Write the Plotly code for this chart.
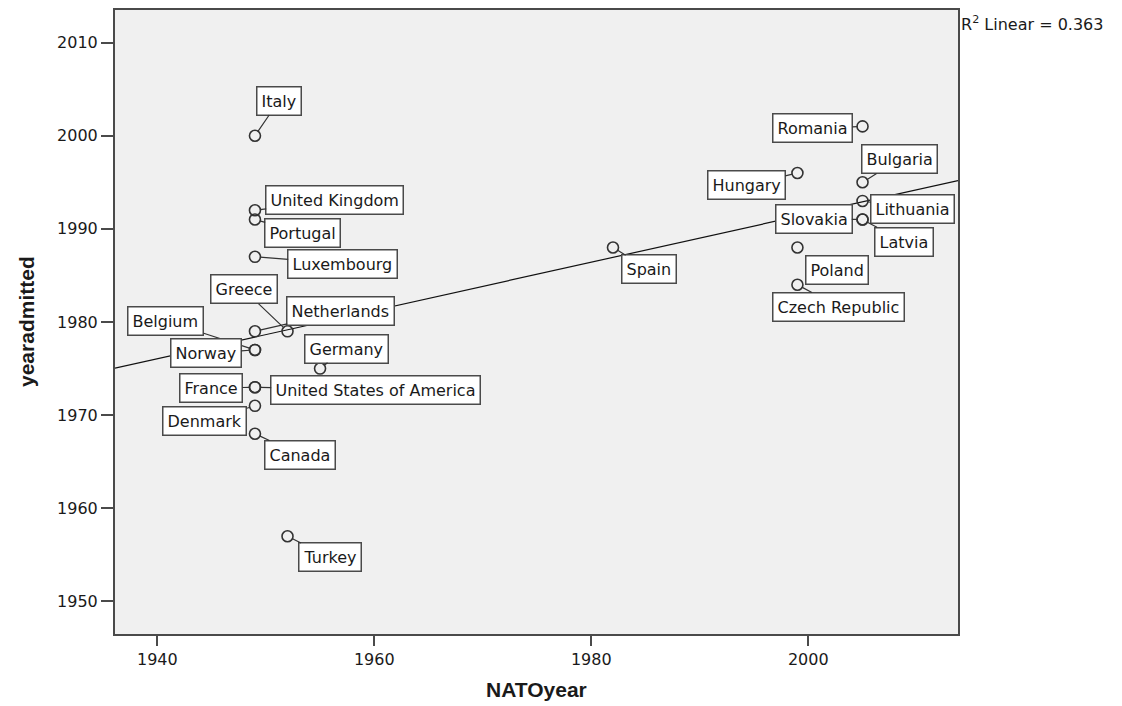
import numpy as np
import plotly.graph_objects as go

# ---- data ----
countries = ["Italy", "United Kingdom", "Portugal", "Luxembourg", "Greece",
             "Netherlands", "Belgium", "Norway", "Germany", "France",
             "United States of America", "Denmark", "Canada", "Turkey",
             "Spain", "Hungary", "Poland", "Czech Republic", "Romania",
             "Bulgaria", "Lithuania", "Latvia", "Slovakia"]
nato_year = [1949, 1949, 1949, 1949, 1952,
             1949, 1949, 1949, 1955, 1949,
             1949, 1949, 1949, 1952,
             1982, 1999, 1999, 1999, 2005,
             2005, 2005, 2005, 2005]
year_admitted = [2000, 1992, 1991, 1987, 1979,
                 1979, 1977, 1977, 1975, 1973,
                 1973, 1971, 1968, 1957,
                 1988, 1996, 1988, 1984, 2001,
                 1995, 1993, 1991, 1991]
x_ticks = [1940, 1960, 1980, 2000]
y_ticks = [1950, 1960, 1970, 1980, 1990, 2000, 2010]
r2_label = "0.363"

# ---- label placement (pixel offsets of box centre from point) ----
label_offsets = {
    "Italy": (24, -35), "United Kingdom": (80, -10), "Portugal": (48, 13),
    "Luxembourg": (88, 7), "Greece": (-44, -42), "Netherlands": (86, -20),
    "Belgium": (-89, -29), "Norway": (-49, 3), "Germany": (26, -20),
    "France": (-44, 1), "United States of America": (121, 3),
    "Denmark": (-50, 15), "Canada": (45, 21), "Turkey": (42, 21),
    "Spain": (36, 22), "Hungary": (-51, 12), "Poland": (40, 23),
    "Czech Republic": (41, 22), "Romania": (-50, 2), "Bulgaria": (37, -23),
    "Lithuania": (50, 8), "Latvia": (41, 22), "Slovakia": (-49, -1),
}

x_range = [1936.1, 2013.8]
y_range = [1946.5, 2013.5]

x = np.array(nato_year, dtype=float)
y = np.array(year_admitted, dtype=float)
slope, intercept = np.polyfit(x, y, 1)
fit_x = np.array(x_range)
fit_y = slope * fit_x + intercept

TXT = "#1a1a1a"
EDGE = "#4a4a4a"
LABEL_FONT = dict(family="DejaVu Sans, Arial, sans-serif", size=16, color=TXT)
TITLE_FONT = dict(family="Liberation Sans Narrow, Arial Narrow, Liberation Sans, sans-serif",
                  size=21, color=TXT, weight="bold")

fig = go.Figure()
fig.add_trace(go.Scatter(x=fit_x, y=fit_y, mode="lines",
                         line=dict(color="#111111", width=1.2), hoverinfo="skip"))
fig.add_trace(go.Scatter(x=nato_year, y=year_admitted, mode="markers",
                         marker=dict(symbol="circle-open", size=11, color="#333333",
                                     line=dict(color="#333333", width=1.6)),
                         text=countries))

annotations = []
for c, xv, yv in zip(countries, nato_year, year_admitted):
    ax, ay = label_offsets[c]
    annotations.append(dict(
        x=xv, y=yv, xref="x", yref="y", text=c, showarrow=True,
        ax=ax, ay=ay, arrowhead=0, arrowwidth=1.2, arrowcolor="#333333",
        standoff=5, bgcolor="white", bordercolor=EDGE, borderwidth=1.5,
        borderpad=4, font=LABEL_FONT))

annotations.append(dict(
    xref="paper", yref="paper", x=1.0, y=(634 - 22) / 626, xanchor="left",
    yanchor="middle", xshift=1, showarrow=False,
    text="R<sup>2</sup> Linear = " + r2_label, font=LABEL_FONT))
annotations.append(dict(
    xref="paper", yref="paper", x=0.5, y=-(690 - 634) / 626, xanchor="center",
    yanchor="middle", showarrow=False, text="NATOyear", font=TITLE_FONT))
annotations.append(dict(
    xref="paper", yref="paper", x=(26 - 115) / 843, y=0.5, xanchor="center",
    yanchor="middle", showarrow=False, text="yearadmitted", textangle=-90,
    font=TITLE_FONT))

axis_common = dict(showgrid=False, zeroline=False, showline=True, mirror=True,
                   linewidth=2, linecolor=EDGE, ticks="outside", tickwidth=2,
                   tickcolor=EDGE, tickfont=LABEL_FONT)

fig.update_layout(
    width=1122, height=706,
    margin=dict(l=115, r=164, t=8, b=72),
    plot_bgcolor="#F0F0F0", paper_bgcolor="white",
    showlegend=False,
    font=LABEL_FONT,
    xaxis=dict(range=x_range, tickvals=x_ticks, ticklen=10, **axis_common),
    yaxis=dict(range=y_range, tickvals=y_ticks, ticklen=12, **axis_common),
    annotations=annotations,
)

fig.write_html("out.html")
